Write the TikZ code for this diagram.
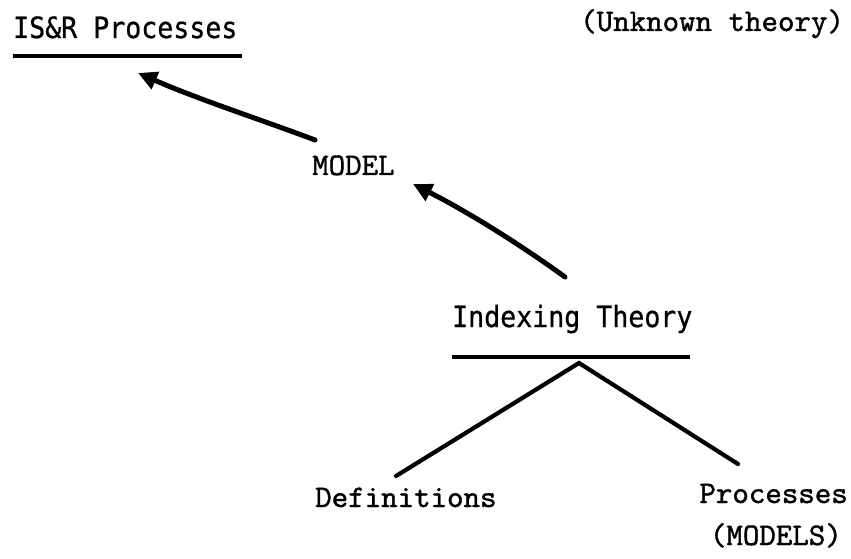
\documentclass[tikz,border=0pt]{standalone}
\usepackage{fontspec}
\usepackage{graphicx}
\newfontfamily\typesans[FakeBold=0.8]{DejaVu Sans Mono}
\newfontfamily\typeserif[FakeBold=1.2]{lmmono10-regular.otf}
\usetikzlibrary{arrows.meta}
\tikzset{
  sanslbl/.style={inner sep=0pt, font=\typesans\fontsize{26.6}{30}\selectfont},
  seriflbl/.style={inner sep=0pt, font=\typeserif\fontsize{31.4}{34}\selectfont},
  rule/.style={line width=3.2pt},
  bigarrow/.style={line width=5pt, line cap=round, -{Triangle[length=19pt,width=18pt]}},
  branch/.style={line width=4.2pt, line cap=round},
}
\begin{document}
\begin{tikzpicture}[x=1pt,y=-1pt]
\useasboundingbox (0,0) rectangle (851,559);
\node[sanslbl, anchor=base west] (isr) at (13,38) {\scalebox{1}[1.1]{IS\&R Processes}};
\coordinate (isrL) at (13,56);
\coordinate (isrR) at (242,56);
\draw[rule] (isrL) -- (isrR);
\node[seriflbl, anchor=base west] (unk) at (580,31) {(Unknown theory)};
\node[seriflbl, anchor=base west] (model) at (312,175) {MODEL};
\node[sanslbl, anchor=base west] (idx) at (452,327) {\scalebox{1}[1.1]{Indexing Theory}};
\coordinate (idxL) at (452,357);
\coordinate (idxR) at (690,357);
\draw[rule] (idxL) -- (idxR);
\node[seriflbl, anchor=base west] (def) at (315,507) {Definitions};
\node[seriflbl, anchor=base east] (proc) at (848,503) {Processes};
\node[seriflbl, anchor=base east] (mods) at (842,545) {(MODELS)};
% arrows
\coordinate (a1s) at (315,140);
\coordinate (a1e) at (138,73);
\draw[bigarrow] (a1s) .. controls (262,120) and (200,100) .. (a1e);
\coordinate (a2s) at (565,277);
\coordinate (a2e) at (413,184);
\draw[bigarrow] (a2s) .. controls (525,248) and (472,214) .. (a2e);
% branches
\coordinate (apex) at (579,363);
\coordinate (lend) at (396,476);
\coordinate (rend) at (738,464);
\draw[branch] (lend) -- (apex) -- (rend);
\end{tikzpicture}
\end{document}
